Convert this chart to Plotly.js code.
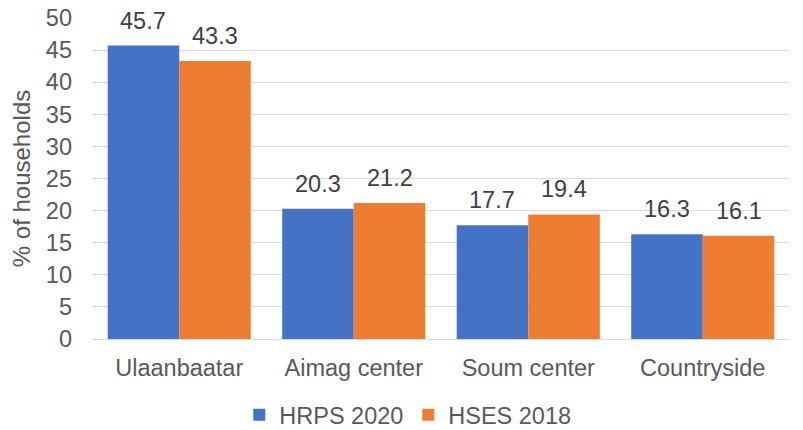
<!DOCTYPE html>
<html><head><meta charset="utf-8">
<script src="https://cdn.plot.ly/plotly-3.0.1.min.js"></script>
<style>body{margin:0;background:#fff}#c{width:803px;height:430px}</style>
</head><body><div id="c"></div>
<script>
const categories = ["Ulaanbaatar", "Aimag center", "Soum center", "Countryside"];
const hrps2020 = [45.7, 20.3, 17.7, 16.3];
const hses2018 = [43.3, 21.2, 19.4, 16.1];
const yTicks = [0,5,10,15,20,25,30,35,40,45,50];
const F = "Liberation Sans, Arial, sans-serif";
const txtColor = "#595959";
const FS = 23.5;
function tr(name, vals, color){
  return {type:"bar", name:name, x:categories, y:vals, marker:{color:color}, hoverinfo:"none"};
}
// data labels via annotations placed on library scales, offset to each bar of the group
const annotations = [];
[[hrps2020,-35.8],[hses2018,35.8]].forEach(([vals,dx])=>{
  vals.forEach((v,i)=>annotations.push({x:categories[i],y:v,xref:"x",yref:"y",text:v.toFixed(1),
    showarrow:false,xshift:dx,yanchor:"bottom",yshift:10,
    font:{family:F,size:FS,color:"#404040"}}));
});
Plotly.newPlot("c",[tr("HRPS 2020",hrps2020,"#4472C4"),tr("HSES 2018",hses2018,"#ED7D31")],{
  width:803,height:430,margin:{l:92,r:13,t:18,b:91,autoexpand:false},
  paper_bgcolor:"#fff",plot_bgcolor:"#fff",
  barmode:"group",bargap:0.18,bargroupgap:0,
  font:{family:F,color:txtColor},
  annotations:annotations,
  xaxis:{tickfont:{family:F,size:FS,color:txtColor},showline:false,ticks:"",fixedrange:true,
    ticklabelstandoff:12,automargin:false},
  yaxis:{range:[0,50],tickvals:yTicks,tickfont:{family:F,size:FS,color:txtColor},
    gridcolor:"#D9D9D9",gridwidth:1,zeroline:true,zerolinecolor:"#D9D9D9",ticks:"",
    ticklabelstandoff:19,automargin:false,
    title:{text:"% of households",font:{family:F,size:24,color:txtColor},standoff:8}},
  legend:{orientation:"h",x:0.211,xanchor:"left",yref:"container",y:0.035,yanchor:"middle",
    font:{family:F,size:FS,color:txtColor},entrywidth:124,entrywidthmode:"pixels",traceorder:"normal"},
  showlegend:true
},{staticPlot:true});
</script></body></html>
